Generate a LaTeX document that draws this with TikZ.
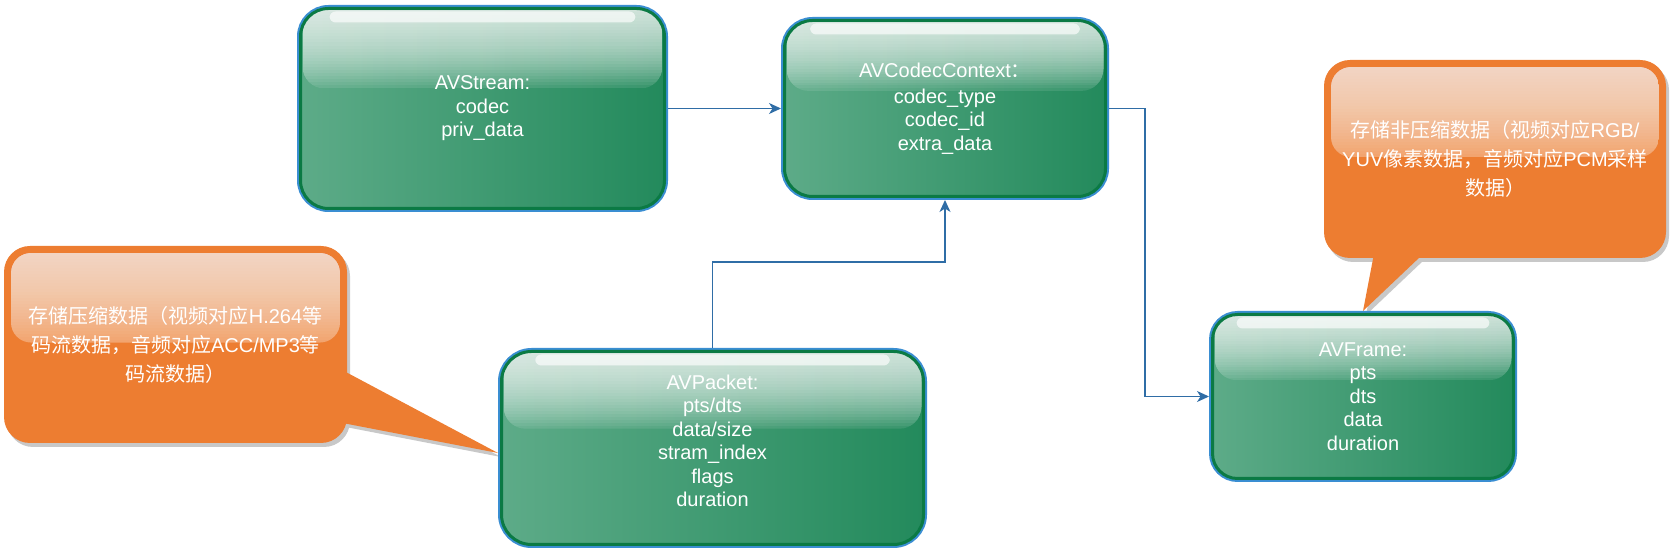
\documentclass[tikz,border=0pt]{standalone}
\usepackage{fontspec}
\setmainfont{Liberation Sans}
\newfontfamily\cjk{Noto Sans CJK SC}
\newfontfamily\latf{Liberation Sans}
\usetikzlibrary{calc,arrows.meta}
\definecolor{gdark}{HTML}{238A5C}
\definecolor{glight}{HTML}{5DAB88}
\definecolor{gborder}{HTML}{0B7A44}
\definecolor{bborder}{HTML}{3A8ED2}
\definecolor{orangec}{HTML}{ED7D31}
\definecolor{arrowc}{HTML}{2F6DA6}
\definecolor{shadowc}{HTML}{C8C8C8}
\pgfdeclarelayer{bg}
\pgfsetlayers{bg,main}
% #1 side inset, #2 top inset, #3 height fraction, #4 base opacity, #5 layer opacity, #6 corner radius
\newcommand\mygloss[6]{%
  \path let \p1=(path picture bounding box.north west), \p2=(path picture bounding box.south east) in
    coordinate (gA) at (\x1+#1, \y1-#2) coordinate (gB) at (\x2-#1, {\y1-#3*(\y1-\y2)});
  \begin{scope}
    \clip[rounded corners=#6] (gA) rectangle (gB);
    \fill[white, sharp corners, opacity=#4] (gA) rectangle (gB);
    \foreach \k in {1,...,30} {
      \fill[white, sharp corners, opacity=#5] (gA) rectangle ($(gB)!{\k/30}!(gB|-gA)$);
    }
  \end{scope}}
\tikzset{
  gbox/.style={rectangle, rounded corners=28pt, left color=glight, right color=gdark,
    draw=gborder, line width=3pt, preaction={draw=bborder, line width=7pt},
    outer sep=3.5pt, inner sep=0pt, text=white, align=center,
    font=\fontsize{20pt}{23.5pt}\selectfont,
    path picture={
      \mygloss{2pt}{-12pt}{0.4}{0.1}{0.058}{22pt}
      \fill[white, sharp corners, opacity=0.65, rounded corners=6pt]
        ($(path picture bounding box.north west)!0.08!(path picture bounding box.north east)+(0pt,-3pt)$) rectangle
        ($(path picture bounding box.north west)!0.92!(path picture bounding box.north east)+(0pt,-14pt)$);
    }},
  callout/.style={rectangle, rounded corners=26pt, fill=orangec, text=white, align=center,
    font=\cjk\fontsize{20pt}{29pt}\selectfont, inner sep=0pt, outer sep=0pt,
    path picture={
      \mygloss{7pt}{7pt}{0.49}{0.3}{0.034}{20pt}
    }},
  arr/.style={draw=arrowc, line width=1.5pt, -{Stealth[length=12pt, width=11pt, inset=3.5pt]}},
  shadowfill/.style={fill=shadowc},
}
\begin{document}
\begin{tikzpicture}[x=1pt,y=1pt]
\useasboundingbox (0,0) rectangle (1670,554);

\node[gbox, minimum width=364pt, minimum height=200pt] (st) at (482.5,445.5)
  {AVStream:\\codec\\priv\_data};
\node[gbox, minimum width=321pt, minimum height=176pt] (cc) at (945,445.5)
  {AVCodecContext{\cjk ：}\\[2pt]codec\_type\\codec\_id\\extra\_data};
\node[gbox, rounded corners=30pt, minimum width=422pt, minimum height=193pt] (pk) at (712.5,106)
  {AVPacket:\\pts/dts\\data/size\\stram\_index\\flags\\duration\\[-9pt]};
\node[gbox, rounded corners=25pt, minimum width=301pt, minimum height=164pt] (fr) at (1363,157.5)
  {AVFrame:\\pts\\dts\\data\\duration};

\node[callout, minimum width=343pt, minimum height=197pt] (lc) at (175.5,209.5)
  {存储压缩数据（视频对应{\latf H.264}等\\码流数据，音频对应{\latf ACC/MP3}等\\码流数据）};
\node[callout, minimum width=342pt, minimum height=198pt] (rc) at (1495,395)
  {存储非压缩数据（视频对应{\latf RGB/}\\{\latf YUV}像素数据，音频对应{\latf PCM}采样\\数据）};

\begin{pgfonlayer}{bg}
  \fill[shadowfill, rounded corners=26pt] ([shift={(3pt,-4pt)}]lc.north west) rectangle ([shift={(3pt,-4pt)}]lc.south east);
  \fill[shadowfill] ([shift={(-17pt,-21.5pt)}]lc.east) -- ([shift={(3pt,-9pt)}]pk.west) -- ([shift={(-17pt,-79.5pt)}]lc.east) -- cycle;
  \fill[orangec] ([shift={(-20pt,-17.5pt)}]lc.east) -- ([shift={(0pt,-5pt)}]pk.west) -- ([shift={(-20pt,-75.5pt)}]lc.east) -- cycle;
  \fill[shadowfill, rounded corners=26pt] ([shift={(3pt,-4pt)}]rc.north west) rectangle ([shift={(3pt,-4pt)}]rc.south east);
  \fill[shadowfill] ([shift={(-115pt,16pt)}]rc.south) -- ([shift={(3pt,-4pt)}]fr.north) -- ([shift={(-52pt,16pt)}]rc.south) -- cycle;
  \fill[orangec] ([shift={(-118pt,20pt)}]rc.south) -- (fr.north) -- ([shift={(-55pt,20pt)}]rc.south) -- cycle;
\end{pgfonlayer}

\draw[arr] (st.east) -- (cc.west);
\draw[arr] (cc.east) -- (cc.east -| 1145,0) |- (fr.west);
\draw[arr] (pk.north) -- (pk.north |- 0,292) -| (cc.south);
\end{tikzpicture}
\end{document}
